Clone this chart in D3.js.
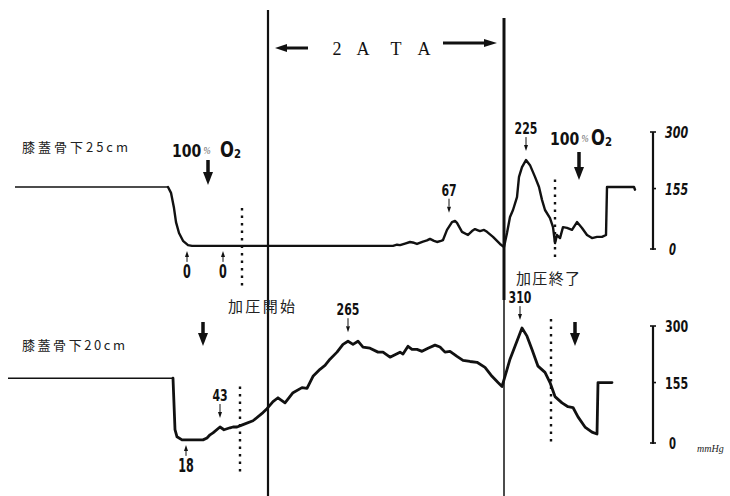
<!DOCTYPE html>
<html>
<head>
<meta charset="utf-8">
<script src="https://cdn.jsdelivr.net/npm/d3@7"></script>
<style>
  html, body { margin: 0; padding: 0; background: #fff; }
  svg { display: block; }
  .num { font-family: "DejaVu Sans", "Liberation Sans", sans-serif; fill: #111; font-weight: bold; }
  .jp { font-family: "Noto Sans CJK JP", sans-serif; fill: #222; }
</style>
</head>
<body>
<div id="chart"></div>
<script>
// ---- data: tissue pO2 (mmHg) against time (arbitrary recorder units) ----
// top trace: 25 cm below the kneecap
const topTrace = [
  [10,159],[163,159],[166,144],[169,105],[171,69],[174,41],[178,21],[183,10],[187,8],
  [385,8],[388,8],[392,11],[395,10],[400,14],[405,18],[409,16],[412,13],[418,19],[422,22],
  [425,26],[429,21],[432,18],[436,21],[438,23],[442,49],[447,69],[450,72],[452,67],[457,44],
  [463,36],[467,46],[470,51],[473,48],[475,46],[479,49],[482,44],[488,31],[495,13],[499,5],
  [502,41],[505,82],[508,100],[512,133],[514,185],[517,210],[521,228],[525,215],[530,185],
  [534,159],[537,126],[540,100],[545,79],[548,56],[550,15],[552,36],[555,28],[558,56],
  [562,54],[567,49],[572,69],[577,54],[582,36],[587,28],[592,31],[597,31],[601,36],
  [602,159],[629,159],[630,152]
];
// bottom trace: 20 cm below the kneecap
const bottomTrace = [
  [3,166],[168,166],[170,34],[172,16],[177,8],[198,8],[202,13],[205,21],[208,26],[215,41],
  [219,34],[225,39],[228,41],[232,41],[238,47],[248,57],[258,78],[262,88],[268,106],[273,116],
  [280,103],[288,129],[297,142],[302,140],[308,171],[315,189],[320,199],[325,215],[332,233],
  [338,253],[343,261],[348,253],[353,261],[358,246],[365,243],[373,233],[378,233],[385,220],
  [395,233],[398,228],[403,248],[407,240],[412,240],[417,235],[423,243],[430,251],[435,246],
  [440,233],[445,235],[452,222],[458,212],[465,209],[472,207],[480,194],[487,171],[493,155],
  [497,145],[500,171],[505,215],[510,248],[517,295],[522,274],[527,240],[533,197],[540,181],
  [545,155],[550,119],[557,103],[563,93],[568,91],[573,67],[580,41],[587,28],[592,23],
  [593,155],[607,155]
];
// where the initial flat (air) segment ends in each trace
const topBaseEnd = 163, bottomBaseEnd = 168;

// events
const pressStart = 263, pressEnd = 499;          // 2 ATA period (solid lines)
const o2Marks = { top: [237, 550], bottom: [235, 546] };   // dotted lines

const scaleTicks = [0, 155, 300];
const scaleLabels = ["0", "155", "300"];

// peak / trough annotations: panel, time, value, label
const notes = [
  { p: "top", t: 182, v: 8, label: "0", dir: "up" },
  { p: "top", t: 218, v: 8, label: "0", dir: "up" },
  { p: "top", t: 444, v: 70, label: "67", dir: "down" },
  { p: "top", t: 521, v: 228, label: "225", dir: "down" },
  { p: "bottom", t: 181, v: 8, label: "18", dir: "up" },
  { p: "bottom", t: 215, v: 41, label: "43", dir: "down" },
  { p: "bottom", t: 343, v: 261, label: "265", dir: "down" },
  { p: "bottom", t: 515, v: 292, label: "310", dir: "down" }
];

const W = 730, H = 496;
const svg = d3.select("#chart").append("svg")
  .attr("width", W).attr("height", H)
  .attr("viewBox", [0, 0, W, H]);

const x = d3.scaleLinear().domain([0, 630]).range([5, 635]);
const y = {
  top: d3.scaleLinear().domain([0, 300]).range([249, 132]),
  bottom: d3.scaleLinear().domain([0, 300]).range([443, 326])
};

const line = sc => d3.line().x(d => x(d[0])).y(d => sc(d[1])).curve(d3.curveLinear);

function drawTrace(data, sc, baseEnd, wBase, wMain) {
  const base = data.filter(d => d[0] <= baseEnd);
  const rest = data.filter(d => d[0] >= baseEnd);
  svg.append("path").datum(base).attr("d", line(sc))
    .attr("fill", "none").attr("stroke", "#111").attr("stroke-width", wBase);
  svg.append("path").datum(rest).attr("d", line(sc))
    .attr("fill", "none").attr("stroke", "#111").attr("stroke-width", wMain)
    .attr("stroke-linejoin", "round").attr("stroke-linecap", "round");
}
drawTrace(topTrace, y.top, topBaseEnd, 1.6, 2.4);
drawTrace(bottomTrace, y.bottom, bottomBaseEnd, 1.6, 2.8);

// pressure start / end lines
svg.append("line").attr("x1", x(pressStart)).attr("x2", x(pressStart))
  .attr("y1", 10).attr("y2", H).attr("stroke", "#111").attr("stroke-width", 2.2);
svg.append("line").attr("x1", x(pressEnd)).attr("x2", x(pressEnd))
  .attr("y1", 18).attr("y2", 300).attr("stroke", "#111").attr("stroke-width", 3);
svg.append("line").attr("x1", x(pressEnd)).attr("x2", x(pressEnd))
  .attr("y1", 300).attr("y2", H).attr("stroke", "#111").attr("stroke-width", 1.5);

// dotted O2 lines
const dotted = [
  { t: o2Marks.top[0], sc: y.top, v0: 105, v1: -105 },
  { t: o2Marks.top[1], sc: y.top, v0: 178, v1: -24 },
  { t: o2Marks.bottom[0], sc: y.bottom, v0: 145, v1: -75 },
  { t: o2Marks.bottom[1], sc: y.bottom, v0: 318, v1: 3 }
];
svg.selectAll(".dot").data(dotted).join("line")
  .attr("x1", d => x(d.t)).attr("x2", d => x(d.t))
  .attr("y1", d => d.sc(d.v0)).attr("y2", d => d.sc(d.v1))
  .attr("stroke", "#111").attr("stroke-width", 2.4)
  .attr("stroke-dasharray", "2.5,5");

// arrows
function arrow(x0, y0, x1, y1, sw, hw, hl) {
  const a = Math.atan2(y1 - y0, x1 - x0);
  const bx = x1 - hl * Math.cos(a), by = y1 - hl * Math.sin(a);
  svg.append("line").attr("x1", x0).attr("y1", y0).attr("x2", bx).attr("y2", by)
    .attr("stroke", "#111").attr("stroke-width", sw);
  const px = -Math.sin(a) * hw / 2, py = Math.cos(a) * hw / 2;
  svg.append("path")
    .attr("d", `M${x1},${y1}L${bx + px},${by + py}L${bx - px},${by - py}Z`)
    .attr("fill", "#111");
}

// narrow digits: squeeze to the width seen on the recorder paper
function num(xp, yp, label, size, perChar, anchor) {
  const w = label.length * perChar;
  const x0 = anchor === "middle" ? xp - w / 2 : xp;
  return svg.append("text").attr("class", "num").attr("x", x0).attr("y", yp)
    .attr("font-size", size).attr("textLength", w).attr("lengthAdjust", "spacingAndGlyphs")
    .text(label);
}

// 2 ATA header
arrow(308, 48, 275, 48, 3, 8, 12);
arrow(443, 43, 497, 43, 3, 8, 13);
svg.selectAll(".ata").data(["2", "A", "T", "A"]).join("text")
  .attr("x", (d, i) => [337, 363, 396, 424][i]).attr("y", 55)
  .attr("text-anchor", "middle")
  .attr("font-family", "'Liberation Serif', 'DejaVu Serif', serif")
  .attr("font-size", 18).attr("fill", "#111")
  .text(d => d);

// panel titles
svg.append("text").attr("class", "jp").attr("x", 22).attr("y", 152)
  .attr("font-size", 13).attr("textLength", 106).attr("lengthAdjust", "spacing")
  .text("膝蓋骨下25cm");
svg.append("text").attr("class", "jp").attr("x", 22).attr("y", 350)
  .attr("font-size", 13).attr("textLength", 103).attr("lengthAdjust", "spacing")
  .text("膝蓋骨下20cm");

// 100% O2 labels (one text element, squeezed horizontally)
function o2Label(x0, yb, gap) {
  const t = svg.append("text").attr("class", "num")
    .attr("transform", `translate(${x0},${yb}) scale(0.78,1)`);
  t.append("tspan").attr("font-size", 18).text("100");
  t.append("tspan").attr("dx", 3).attr("dy", -3)
    .attr("font-family", "'Liberation Serif', serif").attr("font-style", "italic")
    .attr("font-weight", "normal").attr("font-size", 11).attr("fill", "#666").text("%");
  t.append("tspan").attr("dx", gap).attr("dy", 3).attr("font-size", 21).text("O");
  t.append("tspan").attr("dy", 1).attr("font-size", 13).text("2");
}
o2Label(172, 157, 12);
o2Label(550, 145, 3);

// thick down arrows at O2 switches
arrow(x(203), 160, x(203), 185, 3.5, 10, 13);
arrow(x(574), 152, x(574), 180, 3.5, 10, 13);
arrow(x(198), 322, x(198), 346, 3.5, 10, 13);
arrow(x(570), 322, x(570), 346, 3.5, 10, 13);

// pressure start / end captions
svg.append("text").attr("class", "jp").attr("x", 228).attr("y", 312)
  .attr("font-size", 15).attr("textLength", 67).attr("lengthAdjust", "spacing")
  .text("加圧開始");
svg.append("text").attr("class", "jp").attr("x", 516).attr("y", 284)
  .attr("font-size", 15).attr("textLength", 64).attr("lengthAdjust", "spacing")
  .text("加圧終了");

// value annotations
notes.forEach(n => {
  const px = x(n.t), py = y[n.p](n.v);
  if (n.dir === "down") {
    arrow(px, py - 23, px, py - 9, 1, 4, 6);
    num(px, py - 26, n.label, 16, 7.6, "middle");
  } else {
    arrow(px, py + 16, px, py + 5, 1, 4, 6);
    num(px, py + 32, n.label, 19, 7.8, "middle");
  }
});

// mmHg scale bars
["top", "bottom"].forEach(p => {
  const sc = y[p], bx = 653;
  svg.append("line").attr("x1", bx).attr("x2", bx)
    .attr("y1", sc(300)).attr("y2", sc(0) + 1).attr("stroke", "#111").attr("stroke-width", 2.2);
  svg.selectAll(null).data(scaleTicks).join("line")
    .attr("x1", d => d === 155 ? bx - 1 : bx - 3).attr("x2", d => d === 155 ? bx + 3 : bx + 3)
    .attr("y1", d => sc(d)).attr("y2", d => sc(d))
    .attr("stroke", "#111").attr("stroke-width", 1.6);
  scaleTicks.forEach((d, i) => {
    const t = num(d === 0 ? 669 : 665, sc(d) + 6, scaleLabels[i], 15, d === 0 ? 7 : 7.7);
    if (p === "top") t.attr("font-style", "italic");
  });
});
svg.append("text").attr("x", 697).attr("y", 452)
  .attr("font-family", "'Liberation Serif', serif").attr("font-style", "italic")
  .attr("font-size", 10).attr("fill", "#222").text("mmHg");
</script>
</body>
</html>
